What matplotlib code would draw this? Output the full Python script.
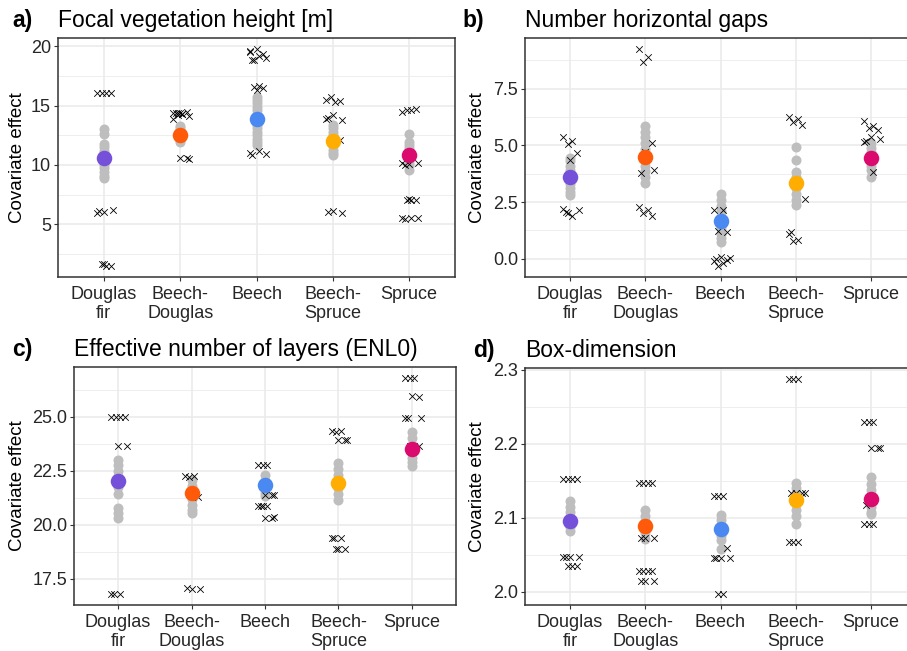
import numpy as np
import matplotlib
matplotlib.use("Agg")
import matplotlib.pyplot as plt
from matplotlib.ticker import FormatStrFormatter, FixedLocator

W, H = 907, 651
plt.rcParams['font.family'] = ['Liberation Sans', 'DejaVu Sans']

categories = ["Douglas\nfir", "Beech-\nDouglas", "Beech", "Beech-\nSpruce", "Spruce"]
mean_colors = ["#7551DA", "#FF5A0A", "#4A88F2", "#FFAD00", "#DB0A6E"]

## a) Focal vegetation height
a_gray = [
    [13.05, 12.6, 11.75, 11.5, 11.2, 10.9, 10.6, 10.3, 10.0, 9.7, 9.4, 9.1, 8.9],
    [13.3, 13.1, 12.9, 12.7, 12.5, 12.3, 12.1, 11.95],
    [15.75, 15.5, 15.2, 14.9, 14.6, 14.3, 14.0, 13.7, 13.4, 13.1, 12.8, 12.5, 12.2, 11.9, 11.7],
    [13.35, 13.1, 12.8, 12.5, 12.2, 11.9, 11.6, 11.3, 11.0, 10.8],
    [12.65, 11.95, 11.7, 11.4, 11.1, 10.8, 10.5, 10.2, 9.9, 9.6],
]
a_cross = [
    [16.1, 16.1, 16.05, 16.1, 6.0, 6.2, 6.1, 5.95, 1.5, 1.6, 1.45, 1.65],
    [14.4, 14.3, 14.2, 14.45, 14.35, 14.1, 14.4, 13.9, 14.3, 14.4, 10.6, 10.55, 10.5],
    [19.6, 19.2, 18.9, 19.4, 19.8, 19.0, 18.9, 19.5, 16.7, 16.6, 16.5, 16.3, 10.9, 10.8, 11.0, 11.2],
    [15.5, 15.3, 15.7, 15.4, 14.2, 13.8, 14.0, 13.9, 12.1, 12.0, 12.1, 6.1, 5.9, 6.0],
    [14.5, 14.6, 14.6, 14.7, 10.1, 10.2, 10.0, 10.15, 7.0, 7.0, 7.05, 7.1, 5.5, 5.4, 5.5, 5.55],
]
a_mean = [10.62, 12.5, 13.9, 12.0, 10.82]

## b) Number horizontal gaps
b_gray = [
    [4.45, 4.3, 4.1, 3.9, 3.7, 3.5, 3.3, 3.1, 2.95, 2.82],
    [5.85, 5.6, 5.35, 5.1, 4.85, 4.6, 4.35, 4.1, 3.85, 3.6, 3.33],
    [2.86, 2.6, 2.35, 2.1, 1.85, 1.6, 1.35, 1.1, 0.9, 0.74],
    [4.94, 4.34, 3.84, 3.6, 3.35, 3.1, 2.85, 2.6, 2.38],
    [5.09, 4.9, 4.7, 4.5, 4.3, 4.1, 3.9, 3.62],
]
b_cross = [
    [5.35, 5.2, 5.05, 4.68, 4.35, 2.15, 2.05, 2.2, 1.9, 2.0],
    [9.25, 8.9, 8.65, 5.09, 4.69, 3.9, 3.8, 2.3, 2.15, 2.0, 1.87],
    [2.16, 2.16, 1.24, 1.2, 0.1, 0.05, 0.0, -0.1, -0.2, -0.32, -0.05],
    [6.25, 6.15, 6.05, 5.9, 3.4, 2.63, 1.2, 1.1, 0.85, 0.77],
    [6.07, 5.85, 5.75, 5.67, 5.38, 5.3, 5.2, 5.16, 3.82],
]
b_mean = [3.6, 4.47, 1.65, 3.33, 4.46]

## c) Effective number of layers
c_gray = [
    [23.0, 22.75, 22.5, 22.25, 22.0, 21.75, 21.4, 20.77, 20.55, 20.31],
    [22.08, 21.8, 21.5, 21.2, 20.9, 20.7, 20.54],
    [22.31, 22.0, 21.7, 21.45, 21.31],
    [22.85, 22.6, 22.3, 22.0, 21.7, 21.4, 21.16],
    [24.31, 24.0, 23.7, 23.4, 23.1, 22.9, 22.7],
]
c_cross = [
    [25.0, 25.0, 25.0, 25.0, 23.66, 23.66, 16.78, 16.78, 16.8],
    [22.23, 22.23, 22.2, 21.3, 17.0, 17.0, 17.05],
    [22.77, 22.77, 22.77, 21.39, 21.39, 21.39, 20.85, 20.85, 20.85, 20.85, 20.31, 20.31, 20.35],
    [24.34, 24.34, 24.3, 23.9, 23.9, 23.9, 19.36, 19.36, 19.36, 18.88, 18.88, 18.88],
    [26.8, 26.8, 26.8, 25.92, 25.95, 24.95, 24.95, 24.95, 23.66, 23.66, 23.66],
]
c_mean = [22.03, 21.47, 21.82, 21.93, 23.5]

## d) Box-dimension
d_gray = [
    [2.122, 2.115, 2.108, 2.1, 2.092, 2.087, 2.082],
    [2.111, 2.103, 2.095, 2.087, 2.079, 2.071],
    [2.1035, 2.097, 2.09, 2.083, 2.076, 2.07, 2.0577],
    [2.1467, 2.14, 2.133, 2.125, 2.118, 2.11, 2.102, 2.092],
    [2.1547, 2.145, 2.137, 2.13, 2.122, 2.115, 2.108, 2.1044],
]
d_cross = [
    [2.1524, 2.1524, 2.1524, 2.1524, 2.0467, 2.0467, 2.0467, 2.0467, 2.0355, 2.0355, 2.0355],
    [2.147, 2.147, 2.147, 2.147, 2.072, 2.072, 2.072, 2.0288, 2.0288, 2.0288, 2.0288, 2.0147, 2.0147, 2.0147],
    [2.13, 2.13, 2.13, 2.059, 2.0457, 2.0457, 2.0457, 2.0457, 1.9968, 1.9968],
    [2.2875, 2.2875, 2.2875, 2.1333, 2.1333, 2.1333, 2.1333, 2.0675, 2.0675, 2.0675],
    [2.2288, 2.2288, 2.2288, 2.1947, 2.1947, 2.1947, 2.1168, 2.091, 2.091, 2.091],
]
d_mean = [2.0955, 2.0888, 2.0853, 2.1235, 2.1253]

a_ticks = [5, 10, 15, 20]
b_ticks = [0.0, 2.5, 5.0, 7.5]
c_ticks = [17.5, 20.0, 22.5, 25.0]
d_ticks = [2.0, 2.1, 2.2, 2.3]

## panel setup: letter, title, data, ticks, tick format, box in pixels (left, top, right, bottom)
panels = [
    ("a)", "Focal vegetation height [m]", a_gray, a_cross, a_mean, a_ticks, "%d", (58, 38, 455, 277), 12, 18),
    ("b)", "Number horizontal gaps", b_gray, b_cross, b_mean, b_ticks, "%.1f", (525, 38, 916, 277), 462, 478),
    ("c)", "Effective number of layers (ENL0)", c_gray, c_cross, c_mean, c_ticks, "%.1f", (74, 367, 456, 605), 12, 18),
    ("d)", "Box-dimension", d_gray, d_cross, d_mean, d_ticks, "%.1f", (525, 368, 916, 605), 473, 478),
]

jit = np.array([-0.09, 0.03, -0.03, 0.09, 0.0, 0.12, -0.06])

fig = plt.figure(figsize=(W / 100, H / 100), dpi=100)

for letter, title, gray, cross, means, ticks, fmt, box, letter_x, lab_x in panels:
    l, t, r, b = box
    ax = fig.add_axes([l / W, 1 - b / H, (r - l) / W, (b - t) / H])

    for i in range(len(categories)):
        g = np.array(gray[i])
        ax.scatter(np.full(len(g), i), g, s=52, color="#BEBEBE", lw=0, zorder=2)
        cr = np.array(cross[i])
        ax.scatter(i + np.resize(jit, len(cr)), cr, marker="x", s=22, color="black", linewidths=0.6, zorder=3)
        ax.scatter([i], [means[i]], s=125, color=mean_colors[i], lw=0, zorder=4)

    ## ggplot-like 5% expansion of data range
    allv = np.concatenate([np.concatenate(gray), np.concatenate(cross), means])
    lo, hi = allv.min(), allv.max()
    pad = (hi - lo) * 0.05
    ax.set_ylim(lo - pad, hi + pad)
    ax.set_xlim(-0.6, len(categories) - 0.4)

    step = ticks[1] - ticks[0]
    minor = [ticks[0] - step / 2] + [v + step / 2 for v in ticks]
    ax.yaxis.set_major_locator(FixedLocator(ticks))
    ax.yaxis.set_minor_locator(FixedLocator(minor))
    ax.yaxis.set_major_formatter(FormatStrFormatter(fmt))
    ax.set_xticks(range(len(categories)))
    ax.set_xticklabels(categories, linespacing=1.15)

    ax.grid(True, which="major", color="#EBEBEB", lw=1.2, zorder=0)
    ax.grid(True, which="minor", axis="y", color="#EBEBEB", lw=0.6, zorder=0)
    ax.set_axisbelow(True)
    ax.tick_params(axis="both", which="major", length=3, width=0.8, color="#333333",
                   labelsize=13, labelcolor="#262626", pad=2)
    ax.tick_params(axis="x", which="major", pad=3.5)
    ax.tick_params(axis="y", which="minor", length=0)
    for sp in ax.spines.values():
        sp.set_color("#333333")
        sp.set_linewidth(1.1)

    fig.text(letter_x / W, 1 - (t - 11) / H, letter, fontsize=16.5, fontweight="bold", va="baseline", ha="left")
    fig.text(l / W, 1 - (t - 11) / H, title, fontsize=16.5, va="baseline", ha="left")
    fig.text(lab_x / W, 1 - ((t + b) / 2) / H, "Covariate effect", fontsize=13.5, rotation=90,
             va="center", ha="center")

plt.savefig("out.png", dpi=100)
